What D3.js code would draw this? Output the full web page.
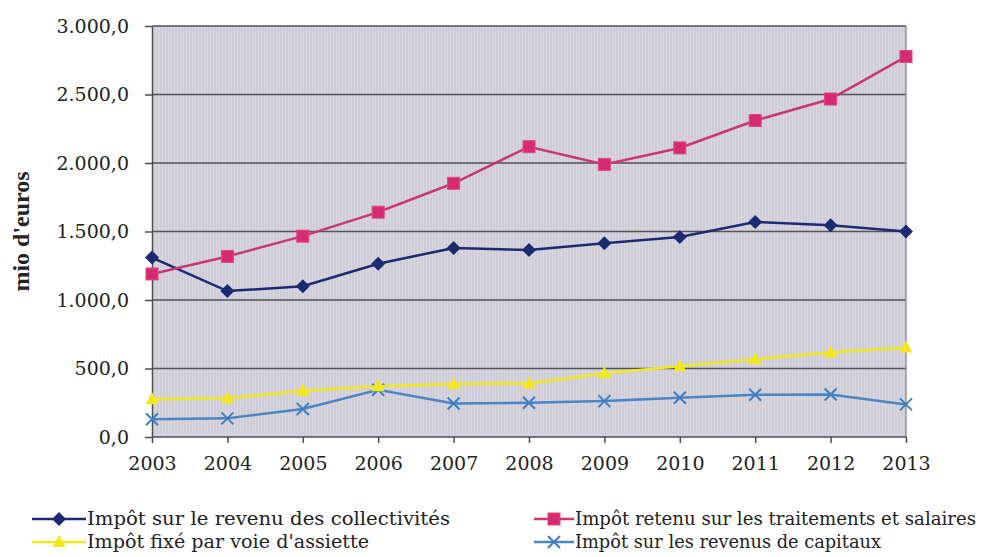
<!DOCTYPE html>
<html><head><meta charset="utf-8">
<script src="https://cdn.jsdelivr.net/npm/d3@7"></script>
<style>
html,body{margin:0;padding:0;background:#fff;}
</style></head>
<body><svg id="c" width="991" height="557"></svg>
<script>
const years = ["2003","2004","2005","2006","2007","2008","2009","2010","2011","2012","2013"];
const collectivites = [1310,1065,1100,1265,1380,1365,1415,1460,1570,1545,1500];
const traitements = [1190,1318,1466,1641,1852,2119,1990,2110,2310,2467,2777];
const assiette = [275,282,337,371,386,391,466,517,568,617,653];
const capitaux = [129,136,204,345,245,250,262,286,308,310,238];
const yTicks = [0,500,1000,1500,2000,2500,3000];
const seriesNames = ["Impôt sur le revenu des collectivités","Impôt retenu sur les traitements et salaires","Impôt fixé par voie d'assiette","Impôt sur les revenus de capitaux"];

const FONT = "'DejaVu Serif', serif";
const FONTB = "'Liberation Serif', 'DejaVu Serif', serif";
const svg = d3.select("#c");
const L=152,R=906,T=26,B=437;
const x = d3.scalePoint().domain(years).range([L,R]).padding(0);
const y = d3.scaleLinear().domain([0,3000]).range([B,T]);
const fmt = v => d3.formatLocale({decimal:",",thousands:".",grouping:[3],currency:["","€"]}).format(",.1f")(v);

svg.append("rect").attr("x",L).attr("y",T).attr("width",R-L).attr("height",B-T).attr("fill","#cfcdd8");
const defs = svg.append("defs");
const pat = defs.append("pattern").attr("id","tex").attr("width",3).attr("height",3).attr("patternUnits","userSpaceOnUse");
pat.append("rect").attr("width",1).attr("height",3).attr("fill","#dddbe3").attr("opacity",0.7);
svg.append("rect").attr("x",L).attr("y",T).attr("width",R-L).attr("height",B-T).attr("fill","url(#tex)");

svg.append("g").selectAll("line").data(yTicks.filter(d=>d>0)).join("line")
  .attr("x1",L).attr("x2",R).attr("y1",d=>y(d)).attr("y2",d=>y(d))
  .attr("stroke","#555258").attr("stroke-width",1.3);
svg.append("line").attr("x1",R).attr("x2",R).attr("y1",T).attr("y2",B).attr("stroke","#8a878d").attr("stroke-width",1.3);

const yAxis = d3.axisLeft(y).tickValues(yTicks).tickFormat(fmt).tickSizeInner(7).tickSizeOuter(0).tickPadding(16);
const gy = svg.append("g").attr("transform",`translate(${L},0)`).call(yAxis);
gy.attr("font-family",FONT).attr("font-size",19);
gy.selectAll("text").attr("fill","#222");
gy.selectAll("line,path").attr("stroke","#4e4b50").attr("stroke-width",1.5);

const xAxis = d3.axisBottom(x).tickSizeInner(6).tickSizeOuter(0).tickPadding(14);
const gx = svg.append("g").attr("transform",`translate(0,${B})`).call(xAxis);
gx.attr("font-family",FONT).attr("font-size",19);
gx.selectAll("text").attr("fill","#222");
gx.selectAll("line,path").attr("stroke","#4e4b50").attr("stroke-width",1.5);
gx.select("path").attr("d",`M${L},0H${R}`);

svg.append("text").attr("transform",`translate(29,${(T+B)/2}) rotate(-90)`).attr("text-anchor","middle")
  .attr("font-family",FONTB).attr("font-size",24).attr("font-weight","bold").attr("fill","#222").text("mio d'euros");

const series = [
  {name:seriesNames[0], vals:collectivites, color:"#1c2a72", lc:"#1c2a72", sym:"diamond"},
  {name:seriesNames[1], vals:traitements, color:"#d62a72", lc:"#c8386e", sym:"square"},
  {name:seriesNames[2], vals:assiette, color:"#f1e91c", lc:"#f1e91c", sym:"triangle"},
  {name:seriesNames[3], vals:capitaux, color:"#3f7fc0", lc:"#4a85c4", sym:"x"}
];
const line = d3.line().x((d,i)=>x(years[i])).y(d=>y(d));

function drawMarker(g, sym, color, cx, cy){
  if(sym==="diamond"){
    g.append("path").attr("d",`M${cx},${cy-7}L${cx+7},${cy}L${cx},${cy+7}L${cx-7},${cy}Z`).attr("fill",color);
  } else if(sym==="square"){
    g.append("rect").attr("x",cx-6).attr("y",cy-6).attr("width",12).attr("height",12).attr("fill",color).attr("stroke","#e0487f").attr("stroke-width",1);
  } else if(sym==="triangle"){
    g.append("path").attr("d",`M${cx},${cy-7}L${cx+6.5},${cy+5}L${cx-6.5},${cy+5}Z`).attr("fill",color);
  } else {
    g.append("path").attr("d",`M${cx-6},${cy-6}L${cx+6},${cy+6}M${cx+6},${cy-6}L${cx-6},${cy+6}`).attr("stroke",color).attr("stroke-width",2).attr("fill","none");
  }
}

[3,2,0,1].forEach(k=>{
  const s=series[k];
  const g=svg.append("g");
  g.append("path").datum(s.vals).attr("d",line).attr("fill","none").attr("stroke",s.lc).attr("stroke-width",2.5);
  s.vals.forEach((v,i)=>drawMarker(g,s.sym,s.color,x(years[i]),y(v)));
});

const leg = [
  {k:0, x0:32, x1:86, ty:519, w:363},
  {k:1, x0:534, x1:574, ty:519, w:401},
  {k:2, x0:32, x1:86, ty:542, w:282},
  {k:3, x0:534, x1:574, ty:542, w:306}
];
leg.forEach(o=>{
  const s=series[o.k];
  const g=svg.append("g");
  g.append("line").attr("x1",o.x0).attr("x2",o.x1).attr("y1",o.ty).attr("y2",o.ty).attr("stroke",s.lc).attr("stroke-width",2.5);
  drawMarker(g,s.sym,s.color,(o.x0+o.x1)/2,o.ty);
  g.append("text").attr("x",o.x1+1).attr("y",o.ty+6).attr("font-family",FONT).attr("font-size",18.5).attr("fill","#222")
    .attr("textLength",o.w).attr("lengthAdjust","spacingAndGlyphs").text(s.name);
});
</script></body></html>
